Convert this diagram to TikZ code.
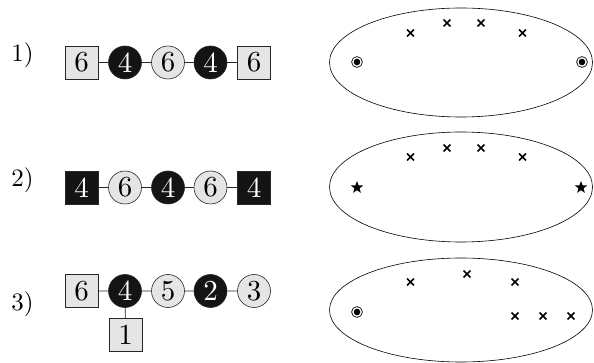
\documentclass[tikz,border=0pt]{standalone}
\usepackage{graphicx}
\usetikzlibrary{shapes.geometric}
\newcommand{\bigdig}[1]{\scalebox{2.9}{#1}}
\newcommand{\biglbl}[1]{\scalebox{2.5}{#1}}
\begin{document}
\begin{tikzpicture}[x=1pt,y=-1pt,
  sqbox/.style={draw=black!85,line width=0.6pt,fill=black!10,minimum size=33pt,inner sep=0pt},
  sqdark/.style={draw=black!85,line width=0.6pt,fill=black!92,text=white,minimum size=33pt,inner sep=0pt},
  cbox/.style={circle,draw=black!85,line width=0.6pt,fill=black!10,minimum size=33pt,inner sep=0pt},
  cdark/.style={circle,draw=black!85,line width=0.6pt,fill=black!92,text=white,minimum size=33pt,inner sep=0pt},
  lbl/.style={inner sep=0pt},
  link/.style={draw=black!85,line width=0.8pt},
  oval/.style={draw=black,line width=0.6pt},
  xmark/.style={line width=1.7pt},
  starmark/.style={star,star points=5,star point ratio=2.4,fill=black,inner sep=0pt,minimum size=13pt}
]
\useasboundingbox (0,0) rectangle (594,363);

% labels
\node[lbl] (l1) at (22.5,55) {\biglbl{1)}};
\node[lbl] (l2) at (22.5,180) {\biglbl{2)}};
\node[lbl] (l3) at (22.5,304) {\biglbl{3)}};

% row 1
\node[sqbox] (a1) at (81.5,62.5) {\bigdig{6}};
\node[cdark] (a2) at (125,62.5) {\bigdig{4}};
\node[cbox] (a3) at (168,62.5) {\bigdig{6}};
\node[cdark] (a4) at (210.5,62.5) {\bigdig{4}};
\node[sqbox] (a5) at (254,62.5) {\bigdig{6}};
\draw[link] (a1) -- (a2) (a2) -- (a3) (a3) -- (a4) (a4) -- (a5);

% row 2
\node[sqdark] (b1) at (81.5,187.5) {\bigdig{4}};
\node[cbox] (b2) at (125,187.5) {\bigdig{6}};
\node[cdark] (b3) at (168,187.5) {\bigdig{4}};
\node[cbox] (b4) at (210.5,187.5) {\bigdig{6}};
\node[sqdark] (b5) at (254,187.5) {\bigdig{4}};
\draw[link] (b1) -- (b2) (b2) -- (b3) (b3) -- (b4) (b4) -- (b5);

% row 3
\node[sqbox] (c1) at (81.5,291) {\bigdig{6}};
\node[cdark] (c2) at (125,291) {\bigdig{4}};
\node[cbox] (c3) at (168,291) {\bigdig{5}};
\node[cdark] (c4) at (210.5,291) {\bigdig{2}};
\node[cbox] (c5) at (254,291) {\bigdig{3}};
\node[sqbox] (c6) at (125.5,335) {\bigdig{1}};
\draw[link] (c1) -- (c2) (c2) -- (c3) (c3) -- (c4) (c4) -- (c5) (c2) -- (c6);

% ellipses
\draw[oval] (461,62.5) ellipse [x radius=131.5, y radius=54.5];
\draw[oval] (461,187) ellipse [x radius=131.5, y radius=55];
\draw[oval] (461,310) ellipse [x radius=131.5, y radius=52];

% circled dots
\foreach \p in {(357,62),(582,62),(357,312)}{
  \draw[line width=0.7pt] \p circle (5.4pt);
  \fill \p circle (3.3pt);
}

% stars
\node[starmark] (s1) at (357,187.5) {};
\node[starmark] (s2) at (581,187.5) {};

% crosses
\foreach \p in {(410.5,33),(447,23),(481,23),(522.5,33),
                (410.5,157),(447,148),(481,148),(522.5,157),
                (410.5,282),(467,274),(515,282),(515,316),(543,316),(571,316)}{
  \draw[xmark] \p +(-3.4,-3.4) -- +(3.4,3.4) \p +(-3.4,3.4) -- +(3.4,-3.4);
}
\end{tikzpicture}
\end{document}
